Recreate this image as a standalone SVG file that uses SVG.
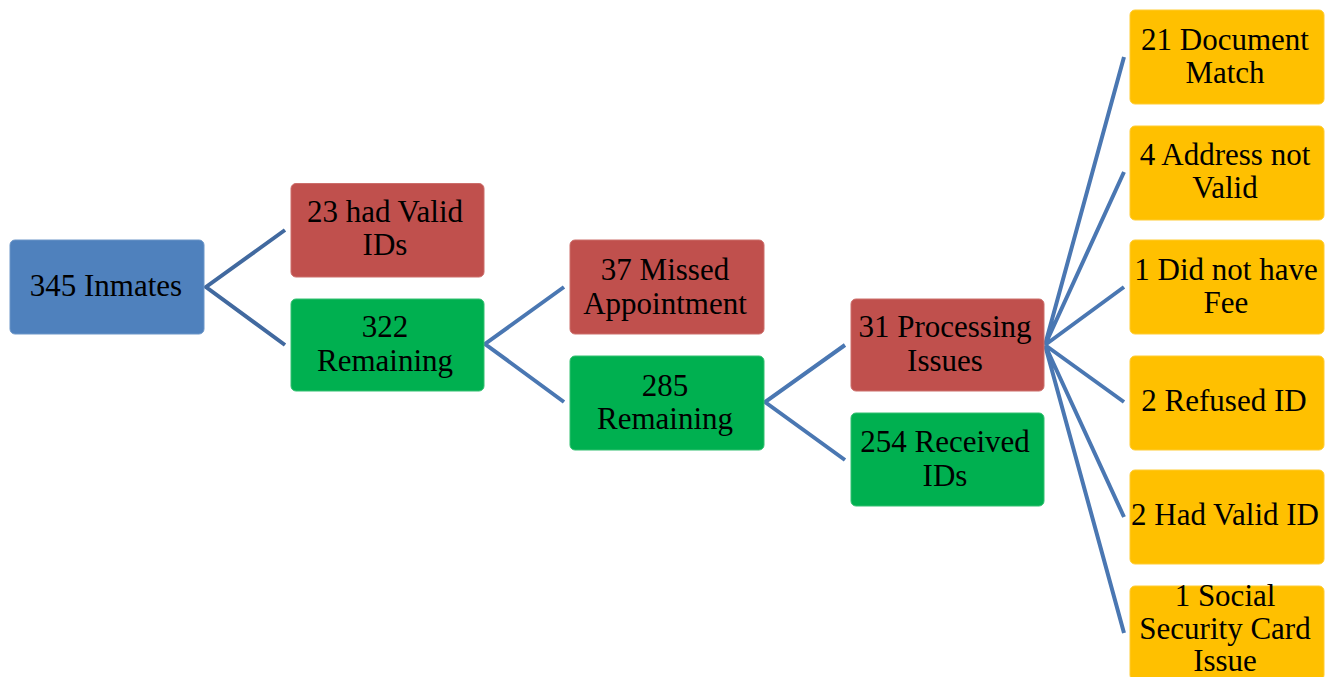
<svg xmlns="http://www.w3.org/2000/svg" width="1333" height="677" viewBox="0 0 1333 677">
<style>
.box{stroke-width:1}
.blue{fill:#4F81BD;stroke:#6C96C8}
.red{fill:#C0504D;stroke:#CC6E6B}
.green{fill:#00B050;stroke:#33C070}
.yellow{fill:#FFC000;stroke:#FFCC33}
text{font-size:31px;fill:#000;text-anchor:middle}
.c1{stroke:#41699F;stroke-width:4;fill:none}
.c2{stroke:#4A77B2;stroke-width:4;fill:none}
</style>
<rect width="1333" height="677" fill="#fff"/>
<g id="connectors">
<polyline class="c1" points="285,230 206,287 285,345"/>
<polyline class="c2" points="564,287 485,344 564,402"/>
<polyline class="c2" points="845,345 765,402 845,460"/>
<path class="c2" d="M1045,345 L1124,57 M1045,345 L1124,172 M1045,345 L1124,287 M1045,345 L1124,402 M1045,345 L1124,517 M1045,345 L1124,633"/>
</g>
<g font-family="Liberation Serif, Tinos, Times New Roman, DejaVu Serif, serif">
<g id="n345">
<rect class="box blue" x="10" y="240" width="194" height="94" rx="5"/>
<text x="106" y="296">345 Inmates</text>
</g>
<g id="n23">
<rect class="box red" x="291" y="183.5" width="193" height="93.5" rx="5"/>
<text x="385" y="222">23 had Valid</text>
<text x="385" y="255">IDs</text>
</g>
<g id="n322">
<rect class="box green" x="291" y="299" width="193" height="92" rx="5"/>
<text x="385" y="337">322</text>
<text x="385" y="371">Remaining</text>
</g>
<g id="n37">
<rect class="box red" x="570" y="240" width="194" height="94" rx="5"/>
<text x="665" y="279.5">37 Missed</text>
<text x="665" y="313.5">Appointment</text>
</g>
<g id="n285">
<rect class="box green" x="570" y="356" width="194" height="94" rx="5"/>
<text x="665" y="395.5">285</text>
<text x="665" y="429">Remaining</text>
</g>
<g id="n31">
<rect class="box red" x="851" y="299" width="193" height="92" rx="5"/>
<text x="945" y="337">31 Processing</text>
<text x="945" y="371">Issues</text>
</g>
<g id="n254">
<rect class="box green" x="851" y="413" width="193" height="93" rx="5"/>
<text x="945" y="452">254 Received</text>
<text x="945" y="485.5">IDs</text>
</g>
<g id="n21">
<rect class="box yellow" x="1130" y="10" width="194" height="94" rx="5"/>
<text x="1225" y="50">21 Document</text>
<text x="1225" y="83">Match</text>
</g>
<g id="n4">
<rect class="box yellow" x="1130" y="126" width="194" height="94" rx="5"/>
<text x="1225" y="165">4 Address not</text>
<text x="1225" y="198">Valid</text>
</g>
<g id="n1fee">
<rect class="box yellow" x="1130" y="240" width="194" height="94" rx="5"/>
<text x="1226" y="280">1 Did not have</text>
<text x="1226" y="313">Fee</text>
</g>
<g id="n2ref">
<rect class="box yellow" x="1130" y="356" width="194" height="94" rx="5"/>
<text x="1224" y="411">2 Refused ID</text>
</g>
<g id="n2had">
<rect class="box yellow" x="1130" y="470" width="194" height="94" rx="5"/>
<text x="1225" y="525">2 Had Valid ID</text>
</g>
<g id="n1ssc">
<rect class="box yellow" x="1130" y="586" width="194" height="94" rx="5"/>
<text x="1225" y="606" font-size="28.5">1 Social</text>
<text x="1225" y="638.5" font-size="28.5">Security Card</text>
<text x="1225" y="671" font-size="28.5">Issue</text>
</g>
</g>
</svg>
